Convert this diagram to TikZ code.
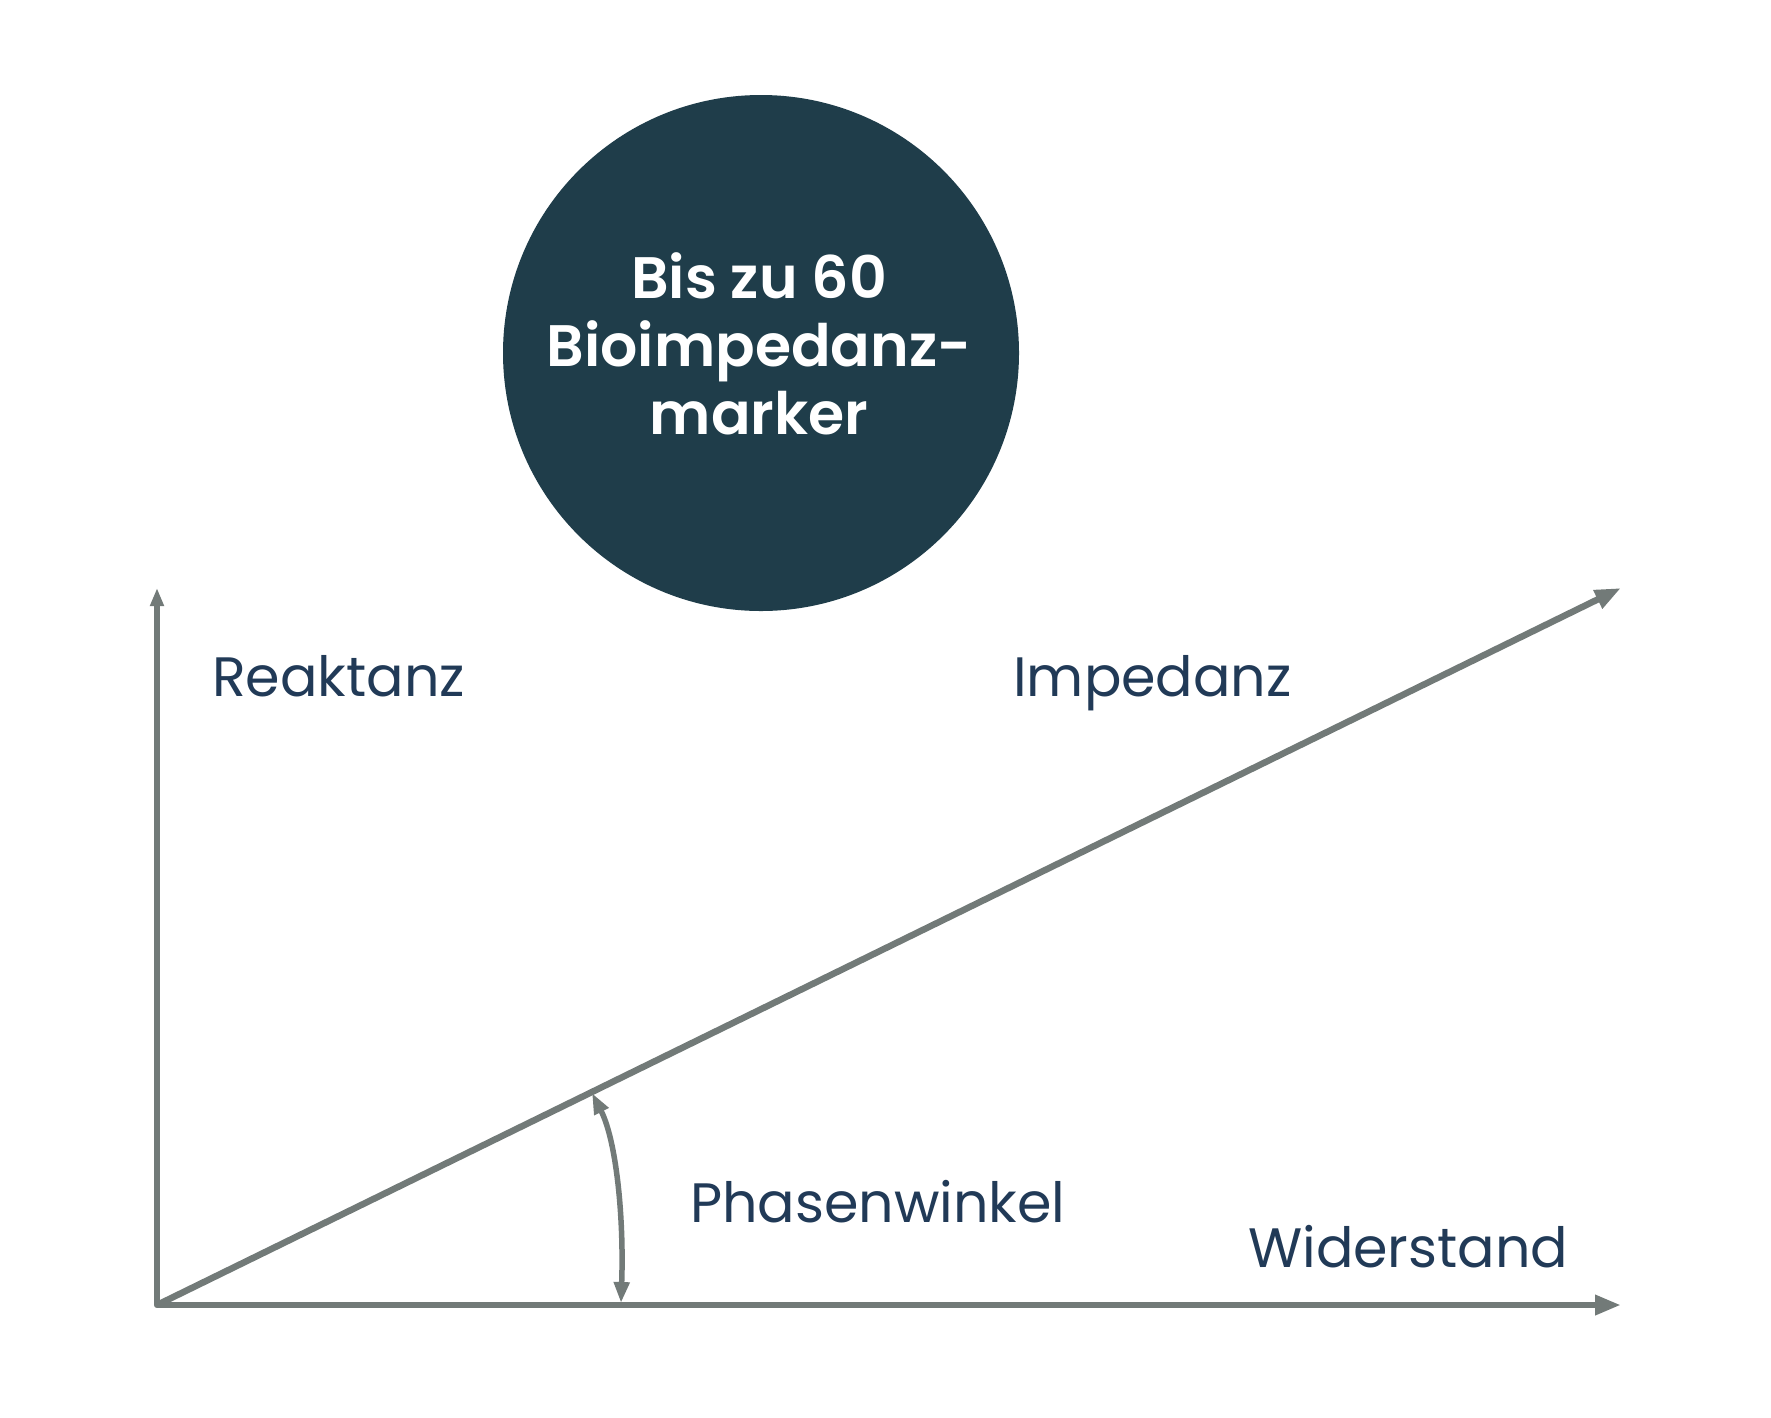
\documentclass[tikz,border=0pt]{standalone}
\usepackage{fontspec}
\setmainfont{Poppins}
\newfontfamily\bubblefont{Poppins SemiBold}
\usetikzlibrary{arrows.meta}
\definecolor{axisgray}{HTML}{727A78}
\definecolor{bubblefill}{HTML}{1F3D4A}
\definecolor{labelnavy}{HTML}{213A57}
\tikzset{
  axisline/.style={draw=axisgray, line width=6.5pt, line join=round, line cap=butt},
  axislabel/.style={anchor=base west, inner sep=0pt, text=labelnavy, font=\fontsize{55.5}{60}\selectfont},
  bubble/.style={circle, fill=bubblefill, minimum size=516pt, inner sep=0pt},
  bubbletext/.style={align=center, text=white, inner sep=0pt, font=\bubblefont\fontsize{58.5}{68}\selectfont},
  anglearrow/.style={draw=axisgray, line width=5.5pt, {Triangle[length=21pt,width=15pt]}-{Triangle[length=21pt,width=15pt]}}
}
\begin{document}
\begin{tikzpicture}[x=1pt,y=-1pt]
\useasboundingbox (0,0) rectangle (1771,1417);
% bubble
\node[bubble] (bub) at (761,353) {};
\node[bubbletext] (bubtxt) at (759,344) {Bis zu 60\\Bioimpedanz-\\marker};
% axes
\coordinate (origin) at (157,1305);
\coordinate (ytip) at (157,588);
\coordinate (xtip) at (1621,1305);
\coordinate (ztip) at (1621,588);
\draw[axisline, {Triangle[length=18pt,width=13pt]}-{Triangle[length=26pt,width=19pt]}] (ytip) -- (origin) -- (xtip);
\draw[axisline, -{Triangle[length=26pt,width=19pt]}] (origin) -- (ztip);
% phase angle arc
\coordinate (abot) at (621,1303);
\coordinate (atop) at (592,1093);
\draw[anglearrow] (abot) .. controls (624,1215) and (616,1140) .. (atop);
% labels
\node[axislabel] (reak) at (212,696) {Reaktanz};
\node[axislabel] (imp) at (1013,696) {Impedanz};
\node[axislabel] (phase) at (690,1222) {Phasenwinkel};
\node[axislabel] (wid) at (1248,1267) {Widerstand};
\end{tikzpicture}
\end{document}
